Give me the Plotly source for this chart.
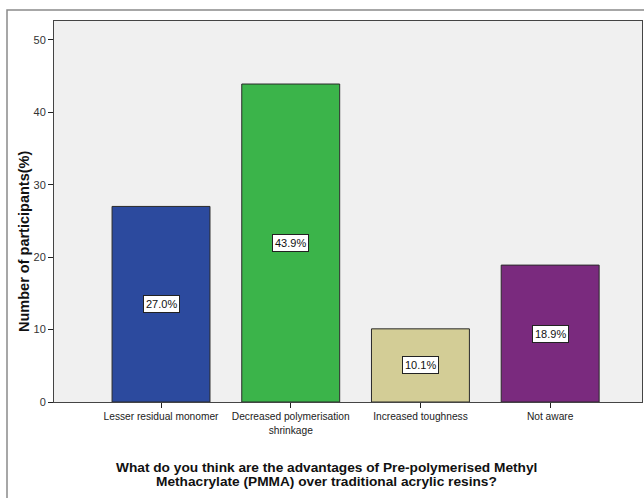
import plotly.graph_objects as go

categories = ["Lesser residual monomer", "Decreased polymerisation<br>shrinkage",
              "Increased toughness", "Not aware"]
values = [27.0, 43.9, 10.1, 18.9]
labels = ["27.0%", "43.9%", "10.1%", "18.9%"]
colors = ["#2C4A9E", "#3BB44A", "#D3CD96", "#7A2A7E"]
y_ticks = [0, 10, 20, 30, 40, 50]
x_title_lines = ["What do you think are the advantages of Pre-polymerised Methyl",
                 "Methacrylate (PMMA) over traditional acrylic resins?"]
y_title = "Number of participants(%)"

xpos = list(range(len(categories)))
FONT = "Liberation Sans, Arial, sans-serif"

fig = go.Figure()
fig.add_trace(go.Bar(
    x=xpos, y=values, width=0.755,
    marker=dict(color=colors, line=dict(color="#2a2a2a", width=1)),
    hoverinfo="skip",
))

for xp, v, lab in zip(xpos, values, labels):
    fig.add_annotation(x=xp, y=v / 2, xref="x", yref="y", text=lab, showarrow=False,
                       font=dict(family=FONT, size=11, color="#111"),
                       bgcolor="white", bordercolor="#222", borderwidth=1, borderpad=2)

for line, ypx in zip(x_title_lines, [467, 481]):
    fig.add_annotation(
        x=(326 - 54) / 588, y=(402 - ypx) / 381, xref="paper", yref="paper",
        xanchor="center", yanchor="middle",
        text="<b>" + line + "</b>", showarrow=False,
        font=dict(family=FONT, size=13.7, color="#111"),
    )

fig.add_annotation(
    x=(24 - 54) / 588, y=(402 - 242) / 381, xref="paper", yref="paper",
    xanchor="center", yanchor="middle", textangle=-90,
    text="<b>" + y_title + "</b>", showarrow=False,
    font=dict(family=FONT, size=14.5, color="#111"),
)

# outer frame
fig.add_shape(type="rect", xref="paper", yref="paper",
              x0=(7 - 54) / 588, x1=1.02, y0=-0.3, y1=1 + 11 / 381,
              line=dict(color="#8a8a8a", width=1.5), layer="below")

fig.update_layout(
    width=644, height=498,
    margin=dict(l=54, r=2, t=21, b=96),
    paper_bgcolor="white", plot_bgcolor="#F0F0F0",
    showlegend=False,
    font=dict(family=FONT, size=11, color="#222"),
    xaxis=dict(range=[-0.825, 3.708], tickvals=xpos, ticktext=categories,
               ticks="outside", ticklen=5, tickcolor="#222", showgrid=False, zeroline=False,
               showline=True, linecolor="#444", linewidth=1, mirror=True,
               tickfont=dict(family=FONT, size=10.2, color="#222")),
    yaxis=dict(range=[0, 52.6], tickvals=y_ticks, ticks="outside", ticklen=5, tickcolor="#222",
               showgrid=False, zeroline=False, showline=True, linecolor="#444", linewidth=1,
               mirror=True, tickfont=dict(family=FONT, size=11, color="#333")),
)

fig.write_html("out.html")
